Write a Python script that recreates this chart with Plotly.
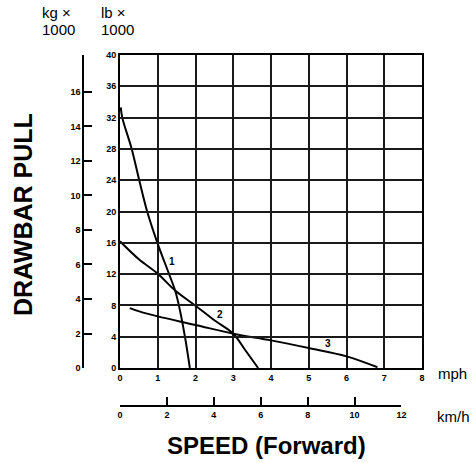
import plotly.graph_objects as go

W, H = 472, 463
KG_PER_KLB = 0.45359237      # kg x 1000 per lb x 1000
KMH_PER_MPH = 1.609344

# Drawbar pull curves: speed (mph) vs. pull (lb x 1000)
gear1_mph = [0.02, 0.06, 0.31, 0.51, 0.72, 0.99, 1.30, 1.46, 1.56, 1.72, 1.85]
gear1_pull = [33.3, 32.0, 28.0, 24.0, 20.0, 16.0, 12.0, 9.9, 8.0, 4.0, 0.0]

gear2_mph = [0.0, 0.5, 1.0, 1.46, 2.0, 2.5, 3.0, 3.33, 3.66]
gear2_pull = [16.2, 13.9, 12.05, 9.9, 7.96, 6.1, 4.38, 2.2, 0.0]

gear3_mph = [0.26, 0.53, 1.0, 2.0, 3.0, 4.0, 5.0, 6.0, 6.82]
gear3_pull = [7.66, 7.2, 6.6, 5.5, 4.38, 3.53, 2.55, 1.49, 0.1]

curve_labels = ["1", "2", "3"]
label_mph = [1.39, 2.64, 5.52]
label_pull = [13.6, 6.9, 3.07]

mph_ticks = list(range(0, 9))
lb_ticks = list(range(0, 41, 4))
kg_ticks = list(range(0, 17, 2))
kmh_ticks = list(range(0, 13, 2))

MPH_MAX = 8
LB_MAX = 40

# plot frame in pixels
X0, X1 = 120, 422
Y_TOP, Y_BOT = 55, 368
KG_AXIS_X = 83
KMH_AXIS_Y = 406


def px(x):
    return x / W


def py(y):
    return 1 - y / H


FONT = "Liberation Sans, Arial, sans-serif"
tick_font = dict(family=FONT, size=9, color="black", weight="bold")

fig = go.Figure()
for xs, ys in [(gear1_mph, gear1_pull), (gear2_mph, gear2_pull), (gear3_mph, gear3_pull)]:
    fig.add_trace(go.Scatter(
        x=xs, y=ys, mode="lines",
        line=dict(color="black", width=2, shape="spline", smoothing=1.0),
        hoverinfo="skip", showlegend=False,
    ))

# invisible anchors so the kg and km/h scales get drawn
fig.add_trace(go.Scatter(x=[0], y=[0], xaxis="x", yaxis="y2", mode="markers",
                         marker=dict(opacity=0), hoverinfo="skip", showlegend=False))
fig.add_trace(go.Scatter(x=[0], y=[0], xaxis="x2", yaxis="y", mode="markers",
                         marker=dict(opacity=0), hoverinfo="skip", showlegend=False))

x_dom = [px(X0), px(X1)]
kmh_max = MPH_MAX * KMH_PER_MPH
kmh_end = kmh_ticks[-1]
x2_dom = [x_dom[0], x_dom[0] + (x_dom[1] - x_dom[0]) * kmh_end / kmh_max]

annotations = []
for t, xm, yl in zip(curve_labels, label_mph, label_pull):
    annotations.append(dict(x=xm, y=yl, xref="x", yref="y", text=t, showarrow=False,
                            font=dict(family=FONT, size=10, color="black", weight="bold")))

text_font = dict(family=FONT, size=15, color="black")
for txt, x, y in [("kg ×", 40, 12), ("1000", 40, 29), ("lb ×", 99, 12), ("1000", 99, 29)]:
    annotations.append(dict(x=px(x), y=py(y), xref="paper", yref="paper", text=txt,
                            showarrow=False, xanchor="left", yanchor="middle", font=text_font))
annotations.append(dict(x=px(436), y=py(373), xref="paper", yref="paper", text="mph",
                        showarrow=False, xanchor="left", yanchor="middle", font=text_font))
annotations.append(dict(x=px(435), y=py(416), xref="paper", yref="paper", text="km/h",
                        showarrow=False, xanchor="left", yanchor="middle", font=text_font))
annotations.append(dict(x=px(266), y=py(445), xref="paper", yref="paper", text="SPEED (Forward)",
                        showarrow=False, xanchor="center", yanchor="middle",
                        font=dict(family=FONT, size=24, color="black", weight="bold")))
annotations.append(dict(x=px(23), y=py(215), xref="paper", yref="paper", text="DRAWBAR PULL",
                        showarrow=False, xanchor="center", yanchor="middle", textangle=-90,
                        font=dict(family=FONT, size=25, color="black", weight="bold")))

grid_color = "#1a1a1a"
fig.update_layout(
    width=W, height=H,
    margin=dict(l=0, r=0, t=0, b=0, autoexpand=False),
    paper_bgcolor="white", plot_bgcolor="rgba(0,0,0,0)",
    showlegend=False,
    xaxis=dict(
        domain=x_dom, range=[0, MPH_MAX], tickvals=mph_ticks,
        showgrid=True, gridcolor=grid_color, gridwidth=1.6,
        showline=True, linecolor="black", linewidth=2, mirror=True,
        ticks="", tickfont=tick_font, zeroline=False, fixedrange=True,
    ),
    yaxis=dict(
        domain=[py(Y_BOT), py(Y_TOP)], range=[0, LB_MAX], tickvals=lb_ticks,
        showgrid=True, gridcolor=grid_color, gridwidth=1.6,
        showline=True, linecolor="black", linewidth=2, mirror=True,
        ticks="", tickfont=tick_font, zeroline=False, fixedrange=True,
    ),
    yaxis2=dict(
        overlaying="y", anchor="free", position=px(KG_AXIS_X), side="left",
        range=[0, LB_MAX * KG_PER_KLB], tickvals=kg_ticks,
        showgrid=False, zeroline=False,
        showline=True, linecolor="black", linewidth=1.5,
        ticks="inside", ticklen=8, tickwidth=1.5, tickcolor="black",
        tickfont=tick_font, fixedrange=True,
    ),
    xaxis2=dict(
        domain=x2_dom, anchor="free", position=py(KMH_AXIS_Y),
        range=[0, kmh_end], tickvals=kmh_ticks,
        showgrid=False, zeroline=False,
        showline=True, linecolor="black", linewidth=1.5,
        ticks="inside", ticklen=8, tickwidth=1.5, tickcolor="black",
        tickfont=tick_font, fixedrange=True,
    ),
    annotations=annotations,
)

fig.write_html("out.html")
